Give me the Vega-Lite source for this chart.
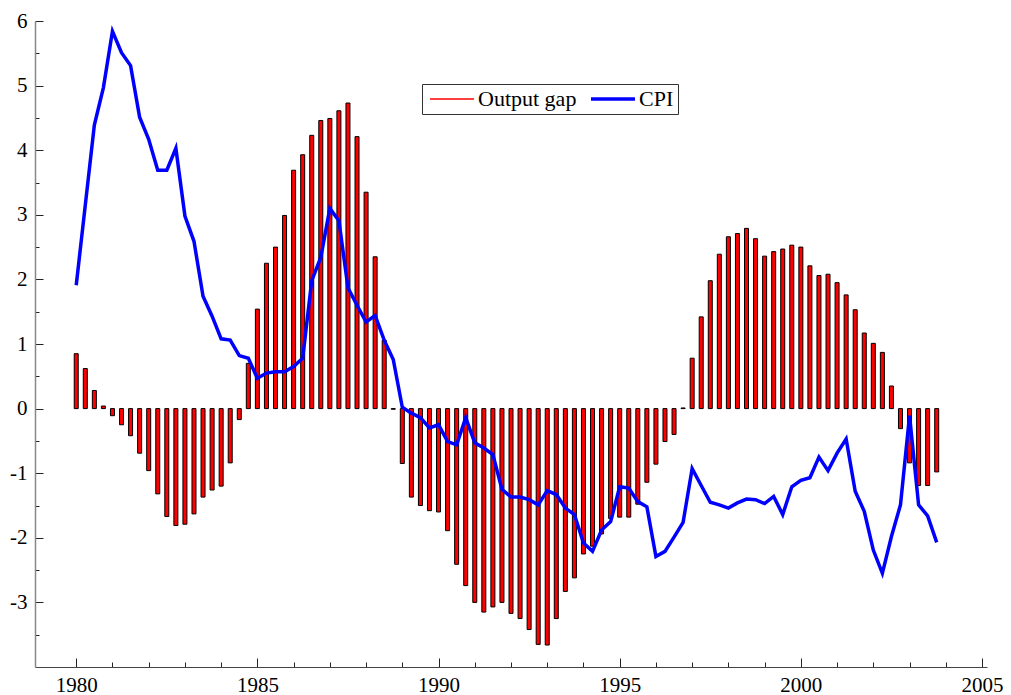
{
  "$schema": "https://vega.github.io/schema/vega-lite/v6.json",
  "width": 952,
  "height": 646,
  "autosize": {"type": "none"},
  "padding": {"left": 35, "top": 21, "right": 24, "bottom": 28},
  "background": "white",
  "config": {"view": {"stroke": null}, "font": "Liberation Serif"},
  "data": {"values": [
    {"t": 1980, "Output gap": 0.85, "CPI": 1.91},
    {"t": 1980.25, "Output gap": 0.62, "CPI": 3.15},
    {"t": 1980.5, "Output gap": 0.28, "CPI": 4.39},
    {"t": 1980.75, "Output gap": 0.04, "CPI": 4.97},
    {"t": 1981, "Output gap": -0.11, "CPI": 5.84},
    {"t": 1981.25, "Output gap": -0.25, "CPI": 5.51},
    {"t": 1981.5, "Output gap": -0.42, "CPI": 5.31},
    {"t": 1981.75, "Output gap": -0.69, "CPI": 4.51},
    {"t": 1982, "Output gap": -0.96, "CPI": 4.17},
    {"t": 1982.25, "Output gap": -1.32, "CPI": 3.69},
    {"t": 1982.5, "Output gap": -1.67, "CPI": 3.69},
    {"t": 1982.75, "Output gap": -1.81, "CPI": 4.03},
    {"t": 1983, "Output gap": -1.79, "CPI": 2.98},
    {"t": 1983.25, "Output gap": -1.63, "CPI": 2.59},
    {"t": 1983.5, "Output gap": -1.37, "CPI": 1.74},
    {"t": 1983.75, "Output gap": -1.26, "CPI": 1.43},
    {"t": 1984, "Output gap": -1.2, "CPI": 1.08},
    {"t": 1984.25, "Output gap": -0.84, "CPI": 1.06},
    {"t": 1984.5, "Output gap": -0.17, "CPI": 0.82},
    {"t": 1984.75, "Output gap": 0.7, "CPI": 0.78},
    {"t": 1985, "Output gap": 1.54, "CPI": 0.47},
    {"t": 1985.25, "Output gap": 2.25, "CPI": 0.55},
    {"t": 1985.5, "Output gap": 2.5, "CPI": 0.57},
    {"t": 1985.75, "Output gap": 2.99, "CPI": 0.57},
    {"t": 1986, "Output gap": 3.69, "CPI": 0.65},
    {"t": 1986.25, "Output gap": 3.93, "CPI": 0.78},
    {"t": 1986.5, "Output gap": 4.23, "CPI": 1.98},
    {"t": 1986.75, "Output gap": 4.46, "CPI": 2.34},
    {"t": 1987, "Output gap": 4.49, "CPI": 3.1},
    {"t": 1987.25, "Output gap": 4.61, "CPI": 2.91},
    {"t": 1987.5, "Output gap": 4.73, "CPI": 1.87},
    {"t": 1987.75, "Output gap": 4.21, "CPI": 1.6},
    {"t": 1988, "Output gap": 3.35, "CPI": 1.34},
    {"t": 1988.25, "Output gap": 2.35, "CPI": 1.44},
    {"t": 1988.5, "Output gap": 1.06, "CPI": 1.06},
    {"t": 1988.75, "Output gap": -0.01, "CPI": 0.76},
    {"t": 1989, "Output gap": -0.85, "CPI": 0.02},
    {"t": 1989.25, "Output gap": -1.37, "CPI": -0.07},
    {"t": 1989.5, "Output gap": -1.5, "CPI": -0.14},
    {"t": 1989.75, "Output gap": -1.58, "CPI": -0.3},
    {"t": 1990, "Output gap": -1.6, "CPI": -0.25},
    {"t": 1990.25, "Output gap": -1.89, "CPI": -0.51},
    {"t": 1990.5, "Output gap": -2.41, "CPI": -0.56},
    {"t": 1990.75, "Output gap": -2.74, "CPI": -0.14},
    {"t": 1991, "Output gap": -3.0, "CPI": -0.53},
    {"t": 1991.25, "Output gap": -3.15, "CPI": -0.61},
    {"t": 1991.5, "Output gap": -3.07, "CPI": -0.71},
    {"t": 1991.75, "Output gap": -3.0, "CPI": -1.25},
    {"t": 1992, "Output gap": -3.17, "CPI": -1.37},
    {"t": 1992.25, "Output gap": -3.25, "CPI": -1.37},
    {"t": 1992.5, "Output gap": -3.42, "CPI": -1.41},
    {"t": 1992.75, "Output gap": -3.65, "CPI": -1.49},
    {"t": 1993, "Output gap": -3.66, "CPI": -1.27},
    {"t": 1993.25, "Output gap": -3.25, "CPI": -1.33},
    {"t": 1993.5, "Output gap": -2.83, "CPI": -1.54},
    {"t": 1993.75, "Output gap": -2.62, "CPI": -1.64},
    {"t": 1994, "Output gap": -2.25, "CPI": -2.08},
    {"t": 1994.25, "Output gap": -2.13, "CPI": -2.21},
    {"t": 1994.5, "Output gap": -1.94, "CPI": -1.88},
    {"t": 1994.75, "Output gap": -1.7, "CPI": -1.75},
    {"t": 1995, "Output gap": -1.68, "CPI": -1.21},
    {"t": 1995.25, "Output gap": -1.68, "CPI": -1.23},
    {"t": 1995.5, "Output gap": -1.48, "CPI": -1.44},
    {"t": 1995.75, "Output gap": -1.14, "CPI": -1.52},
    {"t": 1996, "Output gap": -0.86, "CPI": -2.29},
    {"t": 1996.25, "Output gap": -0.51, "CPI": -2.21},
    {"t": 1996.5, "Output gap": -0.4, "CPI": -1.99},
    {"t": 1996.75, "Output gap": 0.01, "CPI": -1.76},
    {"t": 1997, "Output gap": 0.78, "CPI": -0.93},
    {"t": 1997.25, "Output gap": 1.42, "CPI": -1.19},
    {"t": 1997.5, "Output gap": 1.98, "CPI": -1.45},
    {"t": 1997.75, "Output gap": 2.39, "CPI": -1.49},
    {"t": 1998, "Output gap": 2.66, "CPI": -1.54},
    {"t": 1998.25, "Output gap": 2.71, "CPI": -1.46},
    {"t": 1998.5, "Output gap": 2.79, "CPI": -1.4},
    {"t": 1998.75, "Output gap": 2.63, "CPI": -1.41},
    {"t": 1999, "Output gap": 2.36, "CPI": -1.47},
    {"t": 1999.25, "Output gap": 2.43, "CPI": -1.36},
    {"t": 1999.5, "Output gap": 2.47, "CPI": -1.64},
    {"t": 1999.75, "Output gap": 2.53, "CPI": -1.21},
    {"t": 2000, "Output gap": 2.5, "CPI": -1.11},
    {"t": 2000.25, "Output gap": 2.21, "CPI": -1.07},
    {"t": 2000.5, "Output gap": 2.06, "CPI": -0.75},
    {"t": 2000.75, "Output gap": 2.08, "CPI": -0.96},
    {"t": 2001, "Output gap": 1.95, "CPI": -0.69},
    {"t": 2001.25, "Output gap": 1.76, "CPI": -0.47},
    {"t": 2001.5, "Output gap": 1.53, "CPI": -1.28},
    {"t": 2001.75, "Output gap": 1.17, "CPI": -1.59},
    {"t": 2002, "Output gap": 1.01, "CPI": -2.19},
    {"t": 2002.25, "Output gap": 0.87, "CPI": -2.55},
    {"t": 2002.5, "Output gap": 0.35, "CPI": -1.98},
    {"t": 2002.75, "Output gap": -0.31, "CPI": -1.49},
    {"t": 2003, "Output gap": -0.84, "CPI": -0.11},
    {"t": 2003.25, "Output gap": -1.19, "CPI": -1.49},
    {"t": 2003.5, "Output gap": -1.19, "CPI": -1.66},
    {"t": 2003.75, "Output gap": -0.98, "CPI": -2.07}
  ]},
  "transform": [{"fold": ["Output gap", "CPI"], "as": ["series", "value"]}],
  "encoding": {
    "x": {
      "field": "t", "type": "quantitative",
      "scale": {"domain": [1979, 2005], "nice": false, "zero": false},
      "axis": {
        "title": null, "grid": false,
        "values": [1980,1981,1982,1983,1984,1985,1986,1987,1988,1989,1990,1991,1992,1993,1994,1995,1996,1997,1998,1999,2000,2001,2002,2003,2004,2005],
        "labelExpr": "datum.value % 5 === 0 ? '' + datum.value : ''",
        "domainColor": "#444444", "domainWidth": 1,
        "tickColor": "#222222", "tickWidth": 1,
        "tickSize": {"expr": "datum.value % 5 === 0 ? -9 : -5"},
        "labelFont": "Liberation Serif", "labelFontSize": 21, "labelColor": "#000000",
        "labelPadding": 16, "labelFlush": false, "labelOverlap": false
      }
    },
    "y": {
      "field": "value", "type": "quantitative",
      "scale": {"domain": [-4, 6], "nice": false},
      "axis": {
        "title": null, "grid": false,
        "values": [-3.5,-3,-2.5,-2,-1.5,-1,-0.5,0,0.5,1,1.5,2,2.5,3,3.5,4,4.5,5,5.5,6],
        "labelExpr": "datum.value % 1 === 0 ? '' + datum.value : ''",
        "domainColor": "#888888", "domainWidth": 1.5,
        "tickColor": "#222222", "tickWidth": 1,
        "tickSize": {"expr": "datum.value % 1 === 0 ? -8 : -4"},
        "labelFont": "Liberation Serif", "labelFontSize": 21, "labelColor": "#000000",
        "labelPadding": 16, "labelFlush": false, "labelOverlap": false
      }
    }
  },
  "layer": [
    {
      "data": {"values": [{}]},
      "mark": {"type": "rule", "color": "#a8a8a8", "strokeWidth": 1},
      "encoding": {"x": null, "y": {"datum": 0, "type": "quantitative"}}
    },
    {
      "transform": [{"filter": "datum.series === 'Output gap'"}],
      "mark": {"type": "bar", "size": 4, "stroke": "#000000", "strokeWidth": 1},
      "encoding": {
        "color": {"field": "series", "type": "nominal",
          "scale": {"domain": ["Output gap", "CPI"], "range": ["#ff0000", "#0000ff"]}}
      }
    },
    {
      "transform": [{"filter": "datum.series === 'CPI'"}],
      "mark": {"type": "line", "strokeWidth": 3.5, "strokeJoin": "miter"},
      "encoding": {
        "color": {"field": "series", "type": "nominal",
          "scale": {"domain": ["Output gap", "CPI"], "range": ["#ff0000", "#0000ff"]},
          "legend": {
            "title": null, "orient": "none", "legendX": 387, "legendY": 63,
            "direction": "horizontal", "strokeColor": "#333333", "fillColor": "white",
            "padding": 4, "labelFont": "Liberation Serif", "labelFontSize": 22, "labelColor": "#000000",
            "symbolType": "M-4,0H4", "symbolSize": 121, "symbolOffset": 15, "labelOffset": 15,
            "columnPadding": 7, "symbolStrokeWidth": 2,
            "encode": {"symbols": {"update": {
              "strokeWidth": {"signal": "datum.value === 'CPI' ? 3.5 : 1.5"},
              "fill": {"value": "transparent"},
              "stroke": {"signal": "datum.value === 'CPI' ? '#0000ff' : '#ff0000'"}
            }}}
          }
        }
      }
    }
  ]
}
